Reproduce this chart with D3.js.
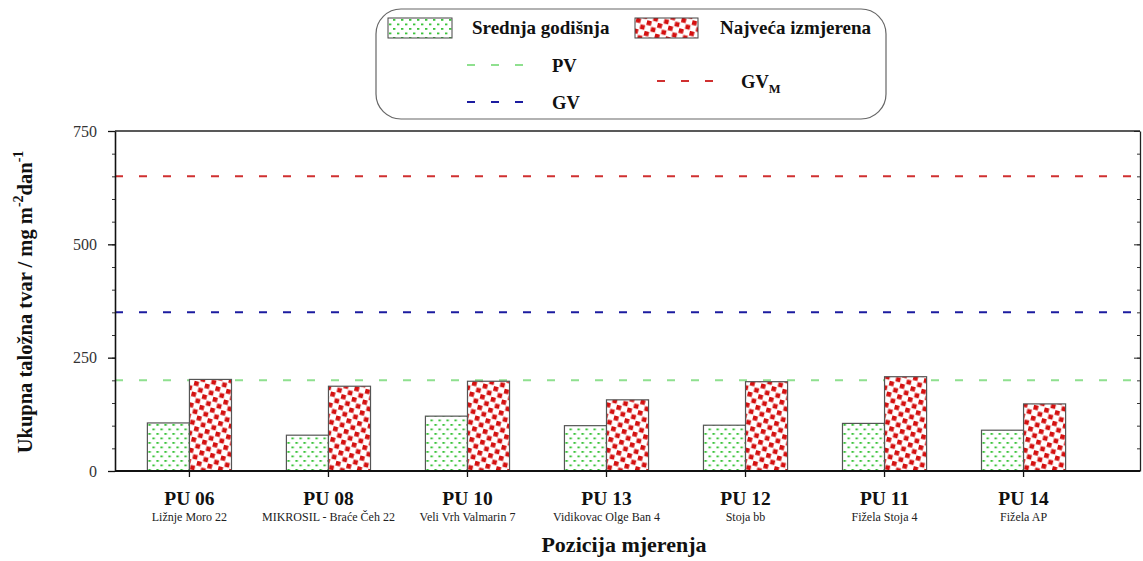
<!DOCTYPE html>
<html><head><meta charset="utf-8">
<script src="https://cdn.jsdelivr.net/npm/d3@7/dist/d3.min.js"></script>
<style>body{margin:0;background:#fff}svg{display:block}text{font-family:"Liberation Serif","Times New Roman",serif}</style>
</head><body>
<svg id="c" width="1143" height="561"></svg>
<script>
const codes = ["PU 06","PU 08","PU 10","PU 13","PU 12","PU 11","PU 14"];
const places = ["Ližnje Moro 22","MIKROSIL - Braće Čeh 22","Veli Vrh Valmarin 7","Vidikovac Olge Ban 4","Stoja bb","Fižela Stoja 4","Fižela AP"];
const srednja = [106, 79, 121, 100, 101, 105, 90];
const najveca = [202, 187, 198, 157, 197, 208, 148];
const limitNames = ["PV","GV","GVM"];
const limitValues = [200, 350, 650];
const yTicks = [0, 250, 500, 750];

const svg = d3.select("#c");
const L = 115, R = 1140, T = 131, B = 471;
const y = d3.scaleLinear().domain([0, 750]).range([B, T]);
const x = d3.scaleBand().domain(codes).range([120, 1093]).paddingInner(0.395).paddingOuter(0.197);
const sub = d3.scaleBand().domain(["s","n"]).range([0, x.bandwidth()]);

const defs = svg.append("defs");
const pg = defs.append("pattern").attr("id","pg").attr("patternUnits","userSpaceOnUse").attr("width",8).attr("height",9);
pg.append("rect").attr("width",8).attr("height",9).attr("fill","#fff");
pg.append("rect").attr("x",1).attr("y",1).attr("width",2.4).attr("height",1.8).attr("fill","#3cc43c");
pg.append("rect").attr("x",5).attr("y",5.5).attr("width",2.4).attr("height",1.8).attr("fill","#3cc43c");
const pr = defs.append("pattern").attr("id","pr").attr("patternUnits","userSpaceOnUse").attr("width",11).attr("height",11).attr("patternTransform","rotate(14)");
pr.append("rect").attr("width",11).attr("height",11).attr("fill","#fff");
pr.append("rect").attr("x",0.5).attr("y",0.5).attr("width",4.7).attr("height",4.7).attr("fill","#d41010");
pr.append("rect").attr("x",6).attr("y",6).attr("width",4.7).attr("height",4.7).attr("fill","#d41010");

const limitColors = {PV:"#8fe08f", GV:"#1c1ca0", GVM:"#d03030"};

// limit lines
svg.append("g").selectAll("line").data(limitValues).join("line")
  .attr("x1", L).attr("x2", R)
  .attr("y1", d => y(d)).attr("y2", d => y(d))
  .attr("stroke", (d,i) => limitColors[limitNames[i]])
  .attr("stroke-width", 2).attr("stroke-dasharray", "8,16");

// bars
const g = svg.append("g").selectAll("g").data(codes).join("g").attr("transform", d => `translate(${x(d)},0)`);
g.append("rect").attr("x", sub("s")).attr("width", sub.bandwidth())
  .attr("y", (d,i) => y(srednja[i])).attr("height", (d,i) => B - y(srednja[i]))
  .attr("fill","url(#pg)").attr("stroke","#555").attr("stroke-width",1.2);
g.append("rect").attr("x", sub("n")).attr("width", sub.bandwidth())
  .attr("y", (d,i) => y(najveca[i])).attr("height", (d,i) => B - y(najveca[i]))
  .attr("fill","url(#pr)").attr("stroke","#555").attr("stroke-width",1.2);

// frame
svg.append("line").attr("x1",L).attr("x2",R).attr("y1",T).attr("y2",T).attr("stroke","#222").attr("stroke-width",1.5);

// left axis
const yMinor = d3.range(0, 751, 50);
const la = svg.append("g").attr("transform",`translate(${L},0)`)
  .call(d3.axisLeft(y).tickValues(yMinor).tickSize(3).tickFormat(""));
la.select(".domain").remove();
la.selectAll("line").attr("stroke","#333");
const lb = svg.append("g").attr("transform",`translate(${L},0)`)
  .call(d3.axisLeft(y).tickValues(yTicks).tickSize(7).tickPadding(11).tickSizeOuter(0));
lb.select(".domain").attr("stroke","#111").attr("stroke-width",1.6);
lb.selectAll("line").attr("stroke","#111").attr("stroke-width",1.3);
lb.selectAll("text").attr("font-size",16).attr("fill","#333").style("font-family","Liberation Serif");

// right axis
const ra = svg.append("g").attr("transform",`translate(${R},0)`)
  .call(d3.axisRight(y).tickValues(yMinor).tickSize(-3).tickFormat("").tickSizeOuter(0));
ra.select(".domain").attr("stroke","#222").attr("stroke-width",1.3);
ra.selectAll("line").attr("stroke","#333");
svg.append("g").attr("transform",`translate(${R},0)`)
  .call(d3.axisRight(y).tickValues(yTicks).tickSize(-6).tickFormat(""))
  .call(s => { s.select(".domain").remove(); s.selectAll("line").attr("stroke","#222"); });

// bottom axis
const xa = svg.append("g").attr("transform",`translate(0,${B})`)
  .call(d3.axisBottom(x).tickSize(6).tickFormat(""));
xa.select(".domain").remove();
xa.selectAll("line").attr("stroke","#111").attr("stroke-width",1.3);
svg.append("line").attr("x1",L).attr("x2",R).attr("y1",B).attr("y2",B).attr("stroke","#111").attr("stroke-width",1.8);

// category labels
const cl = svg.append("g").selectAll("g").data(codes).join("g")
  .attr("transform", d => `translate(${x(d)+x.bandwidth()/2},0)`);
cl.append("text").attr("y",505).attr("text-anchor","middle").attr("font-size",19.5).attr("font-weight","bold").attr("fill","#111").text(d=>d);
cl.append("text").attr("y",521).attr("text-anchor","middle").attr("font-size",12).attr("fill","#222").text((d,i)=>places[i]);

svg.append("text").attr("x",624).attr("y",552).attr("text-anchor","middle").attr("font-size",22).attr("font-weight","bold").attr("fill","#111").text("Pozicija mjerenja");

// y title
const yt = svg.append("text").attr("transform","translate(32,302) rotate(-90)").attr("text-anchor","middle")
  .attr("font-size",20.5).attr("font-weight","bold").attr("fill","#111");
yt.append("tspan").text("Ukupna taložna tvar / mg m");
yt.append("tspan").attr("font-size",14).attr("dy",-9).text("-2");
yt.append("tspan").attr("dy",9).text("dan");
yt.append("tspan").attr("font-size",14).attr("dy",-9).text("-1");

// legend
const lg = svg.append("g");
lg.append("rect").attr("x",376).attr("y",9).attr("width",510).attr("height",110).attr("rx",25).attr("ry",25)
  .attr("fill","#fff").attr("stroke","#666").attr("stroke-width",1.2);
lg.append("rect").attr("x",388).attr("y",18).attr("width",64).attr("height",20).attr("fill","url(#pg)").attr("stroke","#444");
lg.append("text").attr("x",472).attr("y",34).attr("font-size",19).attr("font-weight","bold").attr("fill","#111").text("Srednja godišnja");
lg.append("rect").attr("x",635).attr("y",18).attr("width",63).attr("height",20).attr("fill","url(#pr)").attr("stroke","#444");
lg.append("text").attr("x",720).attr("y",34).attr("font-size",19).attr("font-weight","bold").attr("fill","#111").text("Najveća izmjerena");
const legLines = [{n:"PV",x:467,y:65,tx:552},{n:"GV",x:467,y:102,tx:552},{n:"GVM",x:657,y:81,tx:741}];
legLines.forEach(o => {
  lg.append("line").attr("x1",o.x).attr("x2",o.x+58).attr("y1",o.y).attr("y2",o.y)
    .attr("stroke",limitColors[o.n]).attr("stroke-width",2).attr("stroke-dasharray","8,16").attr("stroke-dashoffset",0);
  const t = lg.append("text").attr("x",o.tx).attr("y",o.y+7).attr("font-size",18.5).attr("font-weight","bold").attr("fill","#111");
  if (o.n === "GVM") { t.append("tspan").text("GV"); t.append("tspan").attr("font-size",12.5).attr("dy",5).text("M"); }
  else t.text(o.n);
});
</script>
</body></html>
